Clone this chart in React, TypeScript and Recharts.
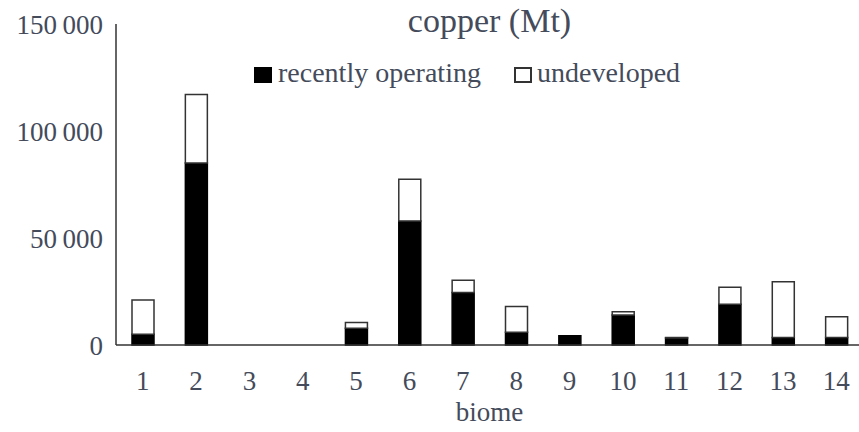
import React from "react";
import { BarChart, Bar, XAxis, YAxis } from "recharts";

const biomes = ["1", "2", "3", "4", "5", "6", "7", "8", "9", "10", "11", "12", "13", "14"];
const operating = [5000, 85000, 0, 0, 7800, 58000, 24500, 6000, 4300, 14000, 3300, 19000, 3500, 3500];
const undeveloped = [16000, 32000, 0, 0, 2700, 19500, 5800, 12000, 0, 1500, 200, 8000, 26000, 9700];
const yTicks = [0, 50000, 100000, 150000];

const FONT = "Liberation Serif, Times New Roman, Times, DejaVu Serif, serif";
const TEXT = "#444b5a";
const LINE = "#333";

const data = biomes.map((b, i) => ({ name: b, operating: operating[i], undeveloped: undeveloped[i] }));

const fmt = (v: number) => (v >= 1000 ? `${Math.floor(v / 1000)}\u2009${String(v % 1000).padStart(3, "0")}` : String(v));

export default function App() {
  return (
    <div style={{ position: "absolute", left: 0, top: 0, width: 859, height: 432, overflow: "hidden", background: "#fff", fontFamily: FONT }}>
      <BarChart width={863} height={432} data={data} margin={{ top: 24, right: 0, left: 0, bottom: 0 }} barSize={22} style={{ fontFamily: FONT }}>
        <XAxis
          dataKey="name"
          height={87}
          axisLine={{ stroke: LINE, strokeWidth: 1.5 }}
          tickLine={false}
          tickSize={0}
          tickMargin={26}
          tick={{ fontSize: 27, fill: TEXT, fontFamily: FONT }}
          interval={0}
          label={{ value: "biome", position: "insideBottom", offset: 11, fontSize: 27, fill: TEXT, fontFamily: FONT }}
        />
        <YAxis
          width={116}
          domain={[0, 150000]}
          ticks={yTicks}
          interval={0}
          axisLine={{ stroke: LINE, strokeWidth: 1.5 }}
          tickLine={false}
          tickSize={0}
          tickMargin={13}
          tickFormatter={fmt}
          tick={{ fontSize: 27, fill: TEXT, fontFamily: FONT }}
        />
        <Bar dataKey="operating" stackId="a" fill="#000" stroke="#000" strokeWidth={1.5} isAnimationActive={false} />
        <Bar dataKey="undeveloped" stackId="a" fill="#fff" stroke={LINE} strokeWidth={1.5} isAnimationActive={false} />
      </BarChart>
      <div style={{ position: "absolute", left: 0, width: 979, top: 4, textAlign: "center", fontSize: 34, color: TEXT, lineHeight: "34px", whiteSpace: "nowrap" }}>
        copper (Mt)
      </div>
      <span style={{ position: "absolute", left: 254, top: 67, width: 18, height: 16, background: "#000" }} />
      <span style={{ position: "absolute", left: 278, top: 59, fontSize: 28, lineHeight: "28px", color: TEXT, whiteSpace: "nowrap" }}>recently operating</span>
      <span style={{ position: "absolute", left: 514, top: 67, width: 14, height: 12, border: `2px solid ${LINE}`, background: "#fff" }} />
      <span style={{ position: "absolute", left: 537, top: 59, fontSize: 28, lineHeight: "28px", color: TEXT, whiteSpace: "nowrap" }}>undeveloped</span>
    </div>
  );
}
